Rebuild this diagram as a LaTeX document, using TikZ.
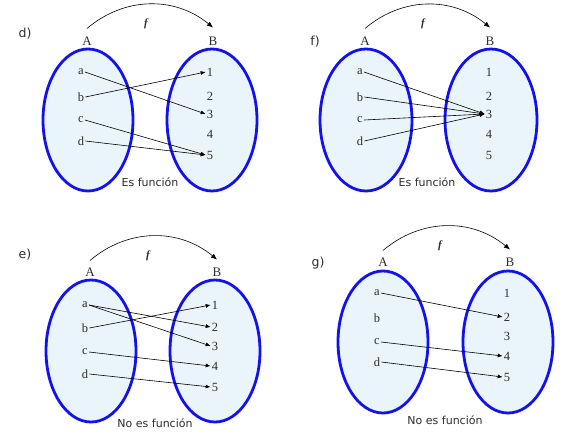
\documentclass[tikz,border=0pt]{standalone}
\usepackage{fontspec}
\setmainfont{Liberation Serif}
\newfontfamily\etiqfont{DejaVu Sans}
\usetikzlibrary{arrows.meta}
\definecolor{azulconj}{RGB}{18,18,240}
\definecolor{fondoconj}{RGB}{234,244,251}
\definecolor{texto}{RGB}{45,45,45}
\tikzset{
  conj/.style={draw=azulconj, line width=2.8pt, fill=fondoconj},
  elem/.style={inner sep=1pt, text=texto, font=\fontsize{12.5}{14}\selectfont},
  nombre/.style={inner sep=1pt, text=texto, font=\fontsize{13}{15}\selectfont},
  inciso/.style={text=texto, font=\etiqfont\fontsize{12.5}{15}\selectfont},
  nota/.style={text=texto, font=\etiqfont\fontsize{11}{13}\selectfont},
  fletra/.style={text=texto, font=\bfseries\itshape\fontsize{11}{13}\selectfont},
  flecha/.style={-{Latex[length=5pt,width=4pt]}, line width=0.6pt},
  arco/.style={-{Latex[length=6pt,width=5pt]}, line width=0.6pt, bend left=40}
}
\begin{document}
\begin{tikzpicture}[x=1pt, y=-1pt]
        \useasboundingbox (0,0) rectangle (573,447);
        % d)
        \draw[conj] (88,120) ellipse [x radius=45pt, y radius=71pt];
        \draw[conj] (212,120) ellipse [x radius=45pt, y radius=71pt];
        \node[inciso](labd) at (25,34) {d)};
        \node[nombre](dA) at (87,41) {A};
        \node[nombre](dB) at (213,41) {B};
        \node[fletra](df) at (146,24) {f};
        \node[elem](da) at (81,72) {a};
        \node[elem](db) at (81,97) {b};
        \node[elem](dc) at (81,120) {c};
        \node[elem](dd) at (81,141) {d};
        \node[elem](d1) at (210,72) {1};
        \node[elem](d2) at (210,96) {2};
        \node[elem](d3) at (210,114) {3};
        \node[elem](d4) at (210,134) {4};
        \node[elem](d5) at (210,155) {5};
        \node[nota](notad) at (150,182) {Es función};
        \draw[arco] ([yshift=7pt]dA.north) to ([yshift=8pt]dB.north);
        \draw[flecha](da.east)--(d3.west);
        \draw[flecha](db.east)--(d1.west);
        \draw[flecha](dc.east)--(d5.west);
        \draw[flecha](dd.east)--(d5.west);
        % f)
        \draw[conj] (366,120) ellipse [x radius=46pt, y radius=71pt];
        \draw[conj] (491,120) ellipse [x radius=46pt, y radius=71pt];
        \node[inciso](labf) at (315,42) {f)};
        \node[nombre](fA) at (365,41) {A};
        \node[nombre](fB) at (490,41) {B};
        \node[fletra](ff) at (423,24) {f};
        \node[elem](fa) at (360,72) {a};
        \node[elem](fb) at (360,97) {b};
        \node[elem](fc) at (360,120) {c};
        \node[elem](fd) at (360,141) {d};
        \node[elem](f1) at (489,72) {1};
        \node[elem](f2) at (489,96) {2};
        \node[elem](f3) at (489,114) {3};
        \node[elem](f4) at (489,134) {4};
        \node[elem](f5) at (489,155) {5};
        \node[nota](notaf) at (427,182) {Es función};
        \draw[arco] ([yshift=7pt]fA.north) to ([yshift=8pt]fB.north);
        \draw[flecha](fa.east)--(f3.west);
        \draw[flecha](fb.east)--(f3.west);
        \draw[flecha](fc.east)--(f3.west);
        \draw[flecha](fd.east)--(f3.west);
        % e)
        \draw[conj] (91,351) ellipse [x radius=45pt, y radius=71pt];
        \draw[conj] (215,351) ellipse [x radius=45pt, y radius=71pt];
        \node[inciso](labe) at (25,255) {e)};
        \node[nombre](eA) at (90,272) {A};
        \node[nombre](eB) at (217,272) {B};
        \node[fletra](ef) at (148,256) {f};
        \node[elem](ea) at (85,305) {a};
        \node[elem](eb) at (85,328) {b};
        \node[elem](ec) at (85,352) {c};
        \node[elem](ed) at (85,374) {d};
        \node[elem](e1) at (215,305) {1};
        \node[elem](e2) at (215,327) {2};
        \node[elem](e3) at (215,346) {3};
        \node[elem](e4) at (215,366) {4};
        \node[elem](e5) at (215,387) {5};
        \node[nota](notae) at (155,423) {No es función};
        \draw[arco] ([yshift=6pt]eA.north) to ([yshift=7pt]eB.north);
        \draw[flecha](ea.east)--(e2.west);
        \draw[flecha](ea.east)--(e3.west);
        \draw[flecha](eb.east)--(e1.west);
        \draw[flecha](ec.east)--(e4.west);
        \draw[flecha](ed.east)--(e5.west);
        % g)
        \draw[conj] (383,342) ellipse [x radius=45pt, y radius=71pt];
        \draw[conj] (508,342) ellipse [x radius=45pt, y radius=71pt];
        \node[inciso](labg) at (318,263) {g)};
        \node[nombre](gA) at (383,262) {A};
        \node[nombre](gB) at (510,262) {B};
        \node[fletra](gf) at (440,246) {f};
        \node[elem](ga) at (377,293) {a};
        \node[elem](gb) at (377,318) {b};
        \node[elem](gc) at (377,342) {c};
        \node[elem](gd) at (377,362) {d};
        \node[elem](g1) at (507,293) {1};
        \node[elem](g2) at (507,317) {2};
        \node[elem](g3) at (507,336) {3};
        \node[elem](g4) at (507,356) {4};
        \node[elem](g5) at (507,377) {5};
        \node[nota](notag) at (445,420) {No es función};
        \draw[arco] ([yshift=6pt]gA.north) to ([yshift=7pt]gB.north);
        \draw[flecha](ga.east)--(g2.west);
        \draw[flecha](gc.east)--(g4.west);
        \draw[flecha](gd.east)--(g5.west);
\end{tikzpicture}
\end{document}
